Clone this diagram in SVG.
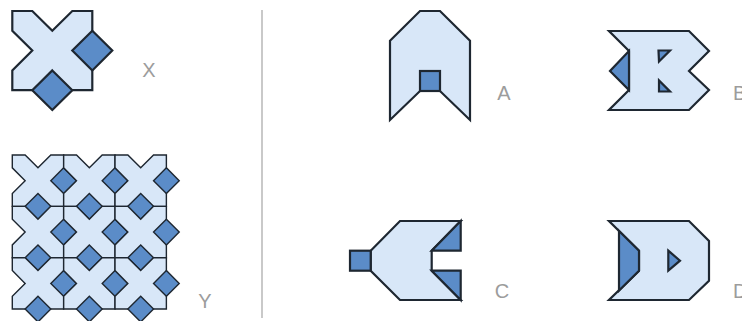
<svg xmlns="http://www.w3.org/2000/svg" xmlns:xlink="http://www.w3.org/1999/xlink" width="742" height="321" viewBox="0 0 742 321">
<style>
.lt{fill:#d8e7f8;stroke:#1e2731;stroke-width:2.2;stroke-linejoin:miter}
.dk{fill:#5b8cc8;stroke:#1e2731;stroke-width:2.2;stroke-linejoin:miter}
.ys .lt,.ys .dk{stroke-width:2.4}
.lbl{font-family:"Liberation Sans",Arial,sans-serif;font-size:20px;fill:#9c9c9c}
.sep{stroke:#c9c9c9;stroke-width:2}
</style>
<defs>
<g id="tile">
<path class="lt" d="M0,0 H20 L40,20 L60,0 H80 V80 H0 V60 L20,40 L0,20 Z"/>
<path class="dk" d="M80,20 L100,40 L80,60 L60,40 Z"/>
<path class="dk" d="M40,60 L60,80 L40,100 L20,80 Z"/>
</g>
</defs>
<rect width="742" height="321" fill="#ffffff"/>
<g id="nodeX">
<use xlink:href="#tile" href="#tile" transform="translate(12.3,11) scale(1,0.99)"/>
<text class="lbl" x="149" y="77" text-anchor="middle">X</text>
</g>
<g id="nodeY">
<g class="ys" transform="translate(12.3,155) scale(0.642)">
<use href="#tile" x="0" y="0"/><use href="#tile" x="80" y="0"/><use href="#tile" x="160" y="0"/>
<use href="#tile" x="0" y="80"/><use href="#tile" x="80" y="80"/><use href="#tile" x="160" y="80"/>
<use href="#tile" x="0" y="160"/><use href="#tile" x="80" y="160"/><use href="#tile" x="160" y="160"/>
</g>
<text class="lbl" x="205" y="308" text-anchor="middle">Y</text>
</g>
<g id="connectors">
<line class="sep" x1="262" y1="10" x2="262" y2="318"/>
</g>
<g id="nodeA">
<path class="lt" d="M390,40.7 L420,11 H440 L470,40.7 V120 L440,91 H420 L390,120 Z"/>
<rect class="dk" x="420" y="71" width="20" height="20"/>
<text class="lbl" x="504" y="100" text-anchor="middle">A</text>
</g>
<g id="nodeB">
<path class="lt" d="M609,31 H689 L709,51 L689,71 L709,90 L689,110 H609 L629,90 V51 Z"/>
<path class="dk" d="M629,51 L610,71 L629,90 Z"/>
<path class="dk" d="M658.5,50.5 H670 L659,61.5 Z"/>
<path class="dk" d="M659,80.5 V91.5 H670 Z"/>
<text class="lbl" x="733" y="100">B</text>
</g>
<g id="nodeC">
<path class="lt" d="M370.7,250.7 L400,221 H460.7 L431.7,250.7 V270.7 L460.7,300 H400 L370.7,270.7 Z"/>
<rect class="dk" x="350" y="250.7" width="20.7" height="20"/>
<path class="dk" d="M460.7,221 V250.7 H431.7 Z"/>
<path class="dk" d="M431.7,270.7 H460.7 V300 Z"/>
<text class="lbl" x="502" y="298" text-anchor="middle">C</text>
</g>
<g id="nodeD">
<path class="lt" d="M609,221 H689 L709,241 V280.7 L689,300 H609 L639,270.7 V250.7 Z"/>
<path class="dk" d="M619,231 L639,250.7 V270.7 L619,290.5 Z"/>
<path class="dk" d="M668.3,250.7 L680,260.7 L668.3,270.7 Z"/>
<text class="lbl" x="733" y="298">D</text>
</g>
</svg>
